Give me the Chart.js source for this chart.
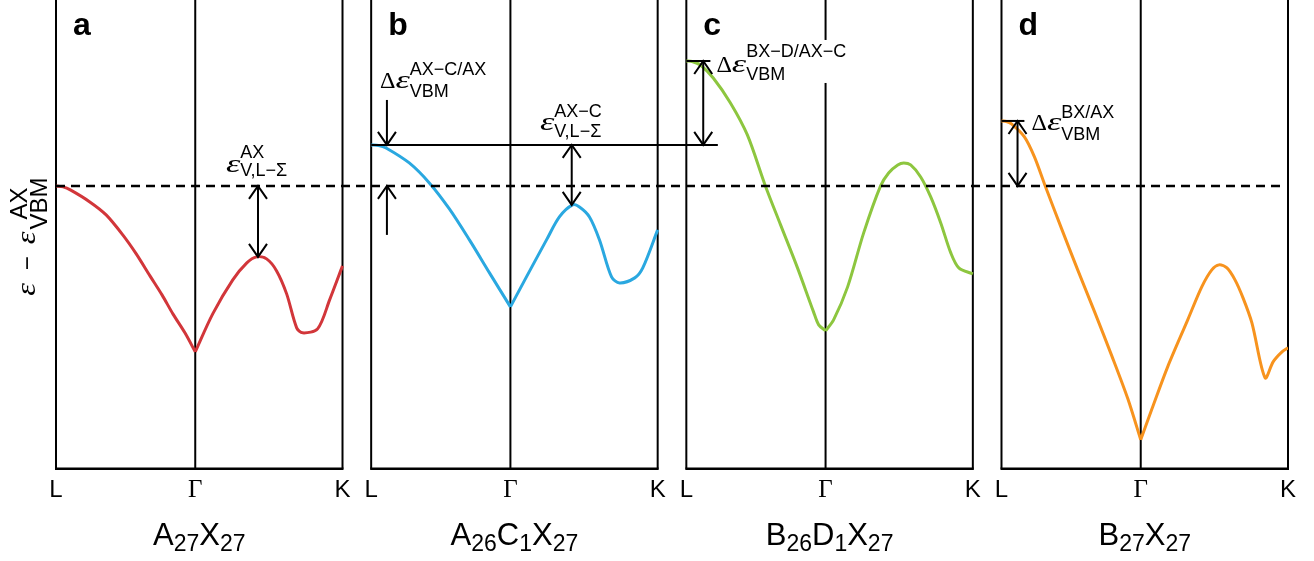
<!DOCTYPE html>
<html>
<head>
<meta charset="utf-8">
<script src="https://cdn.jsdelivr.net/npm/chart.js@4.4.1/dist/chart.umd.min.js"></script>
<style>
html, body { margin: 0; padding: 0; background: #fff; }
</style>
</head>
<body>
<canvas id="bands" width="1314" height="561"></canvas>
<script>
// k-path position inside a panel (L = 0, Gamma = 0.486, K = 1) and energy relative to AX VBM
var kA = [0, 0.025, 0.05, 0.118, 0.175, 0.233, 0.28, 0.328, 0.37, 0.408, 0.45, 0.486, 0.547, 0.617, 0.666, 0.700, 0.735, 0.770, 0.805, 0.840, 0.861, 0.913, 0.955, 1.0];
var eA = [0, -0.01, -0.04, -0.16, -0.29, -0.49, -0.68, -0.90, -1.09, -1.28, -1.47, -1.66, -1.28, -0.94, -0.77, -0.71, -0.73, -0.85, -1.08, -1.42, -1.47, -1.43, -1.14, -0.80];

var kB = [0, 0.026, 0.052, 0.133, 0.203, 0.273, 0.343, 0.413, 0.486, 0.542, 0.612, 0.657, 0.703, 0.727, 0.762, 0.797, 0.839, 0.867, 0.920, 0.948, 1.0];
var eB = [0.41, 0.405, 0.38, 0.23, 0.03, -0.23, -0.54, -0.87, -1.21, -0.91, -0.54, -0.31, -0.19, -0.21, -0.31, -0.54, -0.91, -0.97, -0.92, -0.82, -0.44];

var kC = [0, 0.02, 0.049, 0.094, 0.154, 0.213, 0.276, 0.329, 0.388, 0.444, 0.462, 0.486, 0.514, 0.563, 0.619, 0.678, 0.706, 0.738, 0.759, 0.783, 0.818, 0.853, 0.888, 0.923, 0.951, 1.0];
var eC = [1.25, 1.245, 1.21, 1.08, 0.83, 0.51, 0, -0.39, -0.82, -1.26, -1.39, -1.45, -1.34, -1.01, -0.47, 0, 0.13, 0.21, 0.23, 0.21, 0.09, -0.11, -0.37, -0.67, -0.82, -0.88];

var kD = [0, 0.017, 0.035, 0.080, 0.115, 0.150, 0.210, 0.266, 0.325, 0.385, 0.441, 0.486, 0.524, 0.580, 0.650, 0.699, 0.734, 0.759, 0.787, 0.815, 0.843, 0.874, 0.920, 0.948, 0.979, 1.0];
var eD = [0.65, 0.645, 0.62, 0.49, 0.29, 0.02, -0.43, -0.84, -1.26, -1.70, -2.13, -2.54, -2.24, -1.81, -1.34, -1.01, -0.84, -0.79, -0.82, -0.94, -1.12, -1.37, -1.92, -1.76, -1.66, -1.62];

var kLabels = ['L', 'Γ', 'K'];
var kTicks = [0, 0.486, 1];
var panelLetters = ['a', 'b', 'c', 'd'];
var panelTitles = [
    [['A', '27'], ['X', '27']],
    [['A', '26'], ['C', '1'], ['X', '27']],
    [['B', '26'], ['D', '1'], ['X', '27']],
    [['B', '27'], ['X', '27']]
];

var panelOffset = [0, 1.1, 2.2, 3.3];
var lineColors = ['#d2363a', '#2aa8e0', '#8dc63f', '#f7931e'];

var EPS_FONT = 'italic 26px "Liberation Serif"';
var DELTA_FONT = '24px "Liberation Serif"';
var SCRIPT_FONT = '18px "Liberation Sans"';
var TITLE_FONT = '31px "Liberation Sans"';
var TITLE_SUB = '23px "Liberation Sans"';

var EPS = { t: 'ε', font: EPS_FONT, sx: 1.4 };
var DELTA = { t: 'Δ', font: DELTA_FONT };

// draws a row of text pieces; pieces with sup/sub are stacked scripts
var richText = function (ctx, x, y, parts, draw) {
    var cx = x;
    parts.forEach(function (p) {
        if (p.gap) {
            cx += p.gap;
        } else if (p.t !== undefined) {
            ctx.font = p.font;
            var sx = p.sx || 1;
            var tw = ctx.measureText(p.t).width * sx;
            if (draw) {
                ctx.save();
                ctx.translate(cx, y + (p.dy || 0));
                ctx.scale(sx, 1);
                ctx.fillText(p.t, 0, 0);
                ctx.restore();
            }
            cx += tw;
        } else {
            ctx.font = p.font || SCRIPT_FONT;
            var w1 = p.sup ? ctx.measureText(p.sup).width : 0;
            var w2 = p.sub ? ctx.measureText(p.sub).width : 0;
            var w = Math.max(w1, w2);
            if (draw) {
                if (p.sup) ctx.fillText(p.sup, cx + (p.center ? (w - w1) / 2 : 0), y + (p.up || -14));
                if (p.sub) ctx.fillText(p.sub, cx + (p.center ? (w - w2) / 2 : 0), y + (p.down || 6));
            }
            cx += w;
        }
    });
    return cx - x;
};

var head = function (ctx, x, y, dir) {
    // dir 1: pointing down, -1: pointing up
    ctx.beginPath();
    ctx.moveTo(x - 9, y - dir * 13);
    ctx.lineTo(x, y);
    ctx.lineTo(x + 9, y - dir * 13);
    ctx.stroke();
};

var vline = function (ctx, x, y1, y2) {
    ctx.beginPath();
    ctx.moveTo(x, y1);
    ctx.lineTo(x, y2);
    ctx.stroke();
};

var hline = function (ctx, x1, x2, y) {
    ctx.beginPath();
    ctx.moveTo(x1, y);
    ctx.lineTo(x2, y);
    ctx.stroke();
};

// labels placed in data units: panel, k, energy
var labels = [
    { p: 0, k: 0.593, e: 0.14, parts: [EPS, { sup: 'AX', sub: 'V,L−Σ', down: 4 }] },
    { p: 1, k: 0.031, e: 0.98, parts: [DELTA, EPS, { sup: 'AX−C/AX', sub: 'VBM', up: -13, down: 9 }] },
    { p: 1, k: 0.589, e: 0.56, parts: [EPS, { sup: 'AX−C', sub: 'V,L−Σ', up: -13, down: 7 }] },
    { p: 2, k: 0.105, e: 1.14, parts: [DELTA, EPS, { sup: 'BX−D/AX−C', sub: 'VBM', up: -15, down: 8 }], bg: true },
    { p: 3, k: 0.105, e: 0.56, parts: [DELTA, EPS, { sup: 'BX/AX', sub: 'VBM', up: -12, down: 10 }] }
];

var framePlugin = {
    id: 'frames',
    beforeDatasetsDraw: function (chart) {
        var ctx = chart.ctx;
        var xs = chart.scales.x;
        var ys = chart.scales.y;
        var area = chart.chartArea;
        ctx.save();
        ctx.strokeStyle = '#000';
        ctx.fillStyle = '#000';
        ctx.textBaseline = 'alphabetic';
        ctx.lineWidth = 2;
        panelOffset.forEach(function (o, i) {
            var l = xs.getPixelForValue(o);
            var r = xs.getPixelForValue(o + 1);
            var g = xs.getPixelForValue(o + kTicks[1]);
            vline(ctx, l, area.top, area.bottom);
            vline(ctx, r, area.top, area.bottom);
            vline(ctx, g, area.top, area.bottom);
            ctx.lineWidth = 2.5;
            hline(ctx, l - 1, r + 1, area.bottom);
            ctx.lineWidth = 2;

            ctx.font = 'bold 32px "Liberation Sans"';
            ctx.fillText(panelLetters[i], l + 17, area.top + 35);

            var parts = [];
            panelTitles[i].forEach(function (pt) {
                parts.push({ t: pt[0], font: TITLE_FONT });
                parts.push({ t: pt[1], font: TITLE_SUB, dy: 6 });
            });
            var w = richText(ctx, 0, 0, parts, false);
            richText(ctx, xs.getPixelForValue(o + 0.5) - w / 2, area.bottom + 76, parts, true);
        });

        labels.forEach(function (lb) {
            var x = xs.getPixelForValue(panelOffset[lb.p] + lb.k);
            var y = ys.getPixelForValue(lb.e);
            if (lb.bg) {
                var w = richText(ctx, x, y, lb.parts, false);
                ctx.fillStyle = '#fff';
                ctx.fillRect(x - 3, y - 32, w + 6, 43);
                ctx.fillStyle = '#000';
            }
            richText(ctx, x, y, lb.parts, true);
        });

        // y axis title, rotated
        ctx.save();
        ctx.translate(area.left - 21, ys.getPixelForValue(-1.10));
        ctx.rotate(-Math.PI / 2);
        richText(ctx, 0, 0, [
            { t: 'ε', font: 'italic 28px "Liberation Serif"', sx: 1.15 },
            { gap: 13 },
            { t: '−', font: '24px "Liberation Sans"' },
            { gap: 12 },
            { t: 'ε', font: 'italic 28px "Liberation Serif"', sx: 1.15 },
            { gap: 2 },
            { sup: 'AX', sub: 'VBM', font: '24px "Liberation Sans"', up: -8, down: 12, center: true }
        ], true);
        ctx.restore();
        ctx.restore();
    },
    afterDatasetsDraw: function (chart) {
        var ctx = chart.ctx;
        var xs = chart.scales.x;
        var ys = chart.scales.y;
        var px = function (p, k) { return xs.getPixelForValue(panelOffset[p] + k); };
        var py = function (e) { return ys.getPixelForValue(e); };
        ctx.save();
        ctx.strokeStyle = '#000';

        // AX valence band maximum reference
        ctx.setLineDash([9, 6]);
        ctx.lineWidth = 2.5;
        hline(ctx, px(0, 0), px(3, 0.985), py(0));
        ctx.setLineDash([]);
        ctx.lineWidth = 2;

        // panel a: L-Sigma offset
        vline(ctx, px(0, 0.705), py(0), py(eA[15]));
        head(ctx, px(0, 0.705), py(0), -1);
        head(ctx, px(0, 0.705), py(eA[15]), 1);

        // panel b: new VBM level, arrows
        hline(ctx, px(1, 0), px(2, 0.11), py(eB[0]));
        vline(ctx, px(1, 0.055), py(0.86), py(eB[0]));
        head(ctx, px(1, 0.055), py(eB[0]), 1);
        vline(ctx, px(1, 0.055), py(-0.49), py(0));
        head(ctx, px(1, 0.055), py(0), -1);
        vline(ctx, px(1, 0.70), py(eB[0]), py(eB[12]));
        head(ctx, px(1, 0.70), py(eB[0]), -1);
        head(ctx, px(1, 0.70), py(eB[12]), 1);

        // panel c
        hline(ctx, px(2, 0), px(2, 0.084), py(eC[0]));
        vline(ctx, px(2, 0.059), py(eC[0]), py(eB[0]));
        head(ctx, px(2, 0.059), py(eC[0]), -1);
        head(ctx, px(2, 0.059), py(eB[0]), 1);

        // panel d
        hline(ctx, px(3, 0), px(3, 0.08), py(eD[0]));
        vline(ctx, px(3, 0.056), py(eD[0]), py(0));
        head(ctx, px(3, 0.056), py(eD[0]), -1);
        head(ctx, px(3, 0.056), py(0), 1);
        ctx.restore();
    }
};

// each band is drawn as two branches (L-Gamma, Gamma-K) so the cusp at Gamma stays sharp
var makeSets = function (ks, es, p) {
    var g = ks.indexOf(kTicks[1]);
    var pts = ks.map(function (k, i) { return { x: panelOffset[p] + k, y: es[i] }; });
    return [pts.slice(0, g + 1), pts.slice(g)].map(function (d) {
        return {
            data: d,
            borderColor: lineColors[p],
            borderWidth: 3,
            pointRadius: 0,
            tension: 0.3,
            fill: false
        };
    });
};

var tickValues = [];
var tickNames = [];
panelOffset.forEach(function (o) {
    kTicks.forEach(function (k, j) {
        tickValues.push(o + k);
        tickNames.push(kLabels[j]);
    });
});

var bandChart = new Chart(document.getElementById('bands').getContext('2d'), {
    type: 'line',
    data: {
        datasets: [].concat(
            makeSets(kA, eA, 0),
            makeSets(kB, eB, 1),
            makeSets(kC, eC, 2),
            makeSets(kD, eD, 3)
        )
    },
    options: {
        responsive: false,
        animation: false,
        devicePixelRatio: 1,
        layout: { padding: { left: 56, right: 26, top: 0, bottom: 48.2 } },
        plugins: {
            legend: { display: false },
            tooltip: { enabled: false }
        },
        scales: {
            x: {
                type: 'linear',
                min: 0,
                max: 4.3,
                grid: { display: false, drawTicks: false },
                border: { display: false },
                afterBuildTicks: function (scale) {
                    scale.ticks = tickValues.map(function (v) { return { value: v }; });
                },
                ticks: {
                    autoSkip: false,
                    maxRotation: 0,
                    padding: 7,
                    color: '#000',
                    callback: function (v, i) { return tickNames[i]; },
                    font: function (c) {
                        return tickNames[c.index] === 'Γ'
                            ? { family: 'Liberation Serif', size: 25 }
                            : { family: 'Liberation Sans', size: 24 };
                    }
                }
            },
            y: {
                display: false,
                min: -2.83,
                max: 1.86
            }
        }
    },
    plugins: [framePlugin]
});
</script>
</body>
</html>
